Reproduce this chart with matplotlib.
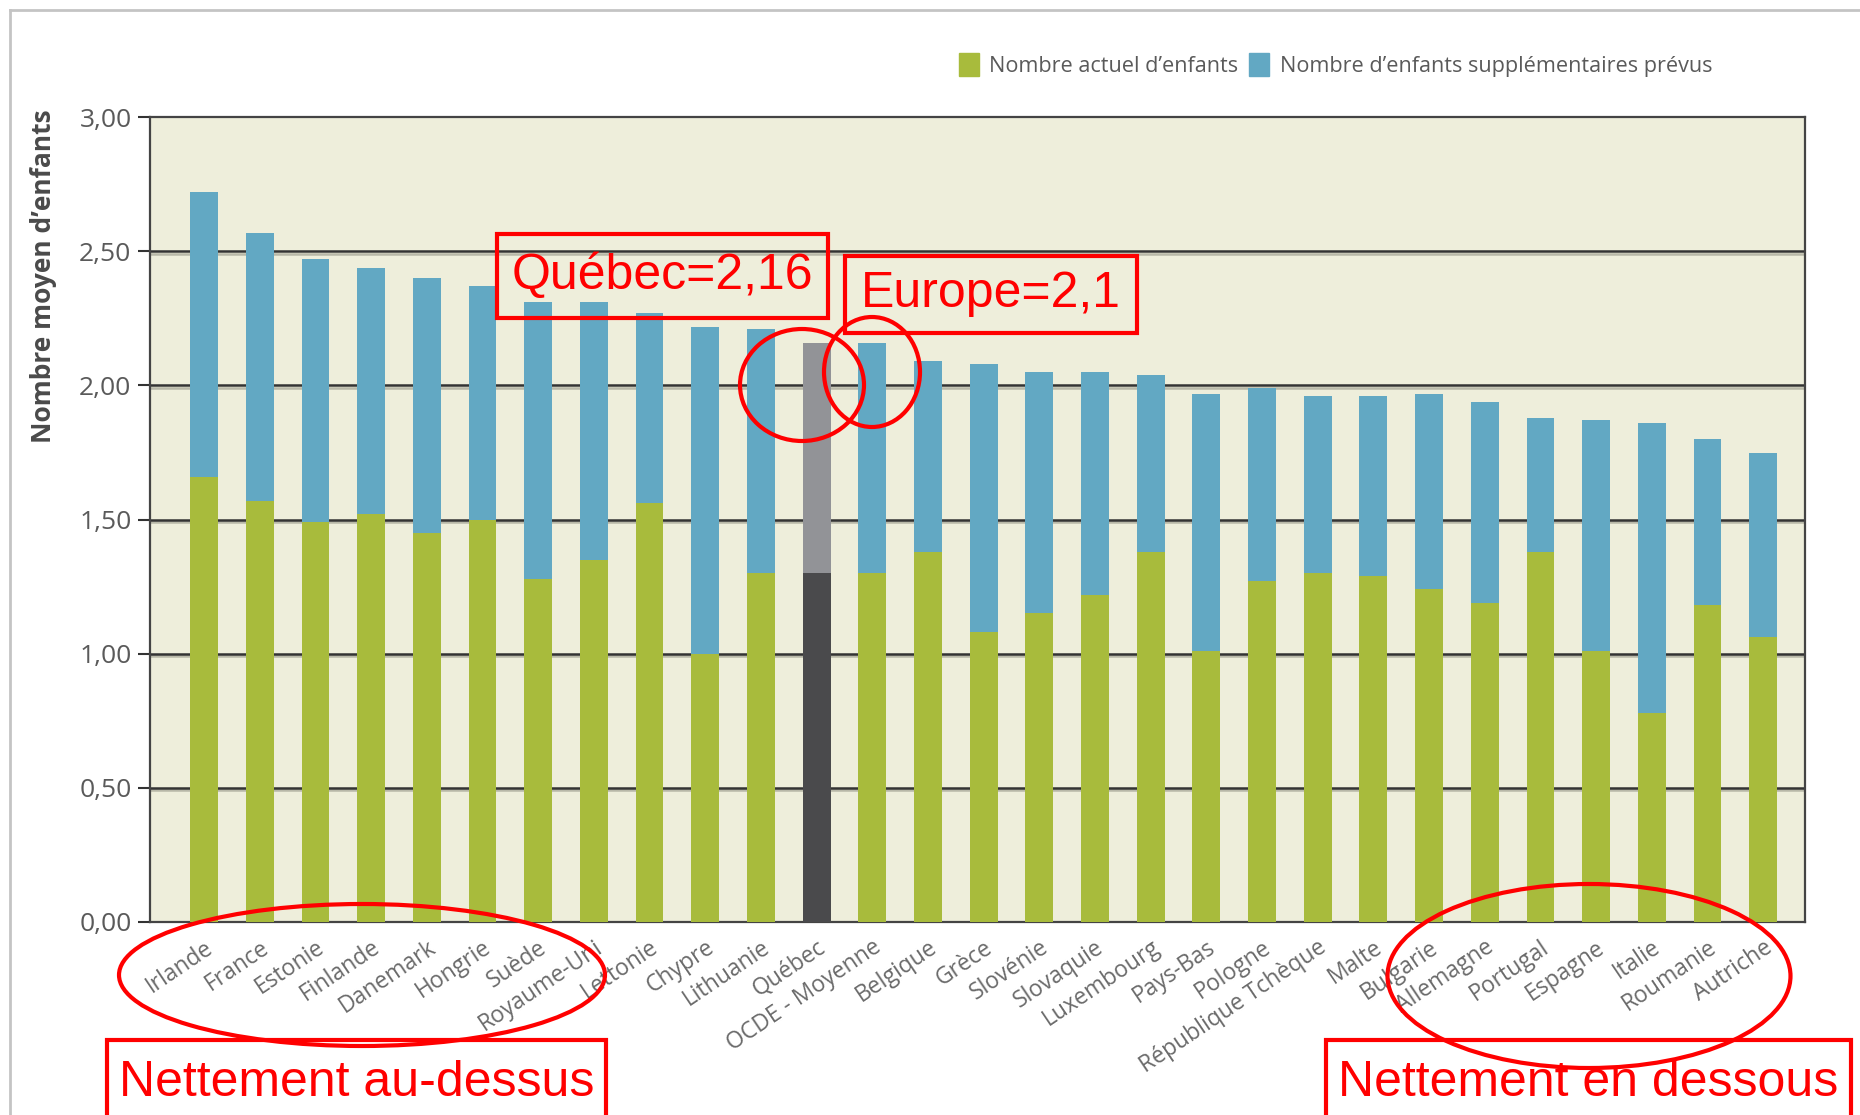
import matplotlib
matplotlib.use('Agg')
import matplotlib.pyplot as plt
from matplotlib.patches import Rectangle, Ellipse
from matplotlib.lines import Line2D
import numpy as np

# données
pays = ['Irlande', 'France', 'Estonie', 'Finlande', 'Danemark', 'Hongrie', 'Suède',
        'Royaume-Uni', 'Lettonie', 'Chypre', 'Lithuanie', 'Québec', 'OCDE - Moyenne',
        'Belgique', 'Grèce', 'Slovénie', 'Slovaquie', 'Luxembourg', 'Pays-Bas', 'Pologne',
        'République Tchèque', 'Malte', 'Bulgarie', 'Allemagne', 'Portugal', 'Espagne',
        'Italie', 'Roumanie', 'Autriche']
actuel = [1.66, 1.57, 1.49, 1.52, 1.45, 1.50, 1.28, 1.35, 1.56, 1.00, 1.30, 1.30, 1.30,
          1.38, 1.08, 1.15, 1.22, 1.38, 1.01, 1.27, 1.30, 1.29, 1.24, 1.19, 1.38, 1.01,
          0.78, 1.18, 1.06]
total = [2.72, 2.57, 2.47, 2.44, 2.40, 2.37, 2.31, 2.31, 2.27, 2.22, 2.21, 2.16, 2.16,
         2.09, 2.08, 2.05, 2.05, 2.04, 1.97, 1.99, 1.96, 1.96, 1.97, 1.94, 1.88, 1.87,
         1.86, 1.80, 1.75]
supplementaires = [t - a for t, a in zip(total, actuel)]
yticks = [0, 0.5, 1.0, 1.5, 2.0, 2.5, 3.0]

VERT = '#a8bb3c'
BLEU = '#62a8c3'
FOND = '#eeeedb'
W, H = 1860, 1115

fig = plt.figure(figsize=(W / 100, H / 100), dpi=100)
ax = fig.add_axes([0.0804, 0.1734, 0.89, 0.7213])
ax.set_facecolor(FOND)

x = np.arange(len(pays))
c1 = [VERT] * len(pays)
c2 = [BLEU] * len(pays)
iq = pays.index('Québec')
c1[iq] = '#4a4a4c'
c2[iq] = '#929397'
ax.bar(x, actuel, width=0.5, color=c1, zorder=3)
ax.bar(x, supplementaires, width=0.5, bottom=actuel, color=c2, zorder=3)

# lignes de grille sombres avec une ombre grise
for yv in yticks[1:-1]:
    ax.axhline(yv - 0.008, color='#b8b8a8', lw=1.8, zorder=1)
    ax.axhline(yv, color='#333333', lw=1.8, zorder=2)

ax.set_xlim(-0.98, 28.75)
ax.set_ylim(0, 3)
ax.set_yticks(yticks)
ax.set_yticklabels([f'{v:.2f}'.replace('.', ',') for v in yticks],
                   fontsize=19, color='#5a5a5a', family='Open Sans')
ax.tick_params(axis='y', length=9, width=1.5, color='#333333', pad=4)
ax.set_xticks(x)
ax.set_xticklabels(pays, rotation=34, ha='right', rotation_mode='anchor',
                   fontsize=16.5, color='#6a6a6a', family='Open Sans')
ax.tick_params(axis='x', length=0, pad=10)
for s in ax.spines.values():
    s.set_color('#444444')
    s.set_linewidth(1.6)
ax.set_ylabel('Nombre moyen d’enfants', fontsize=19, fontweight='bold',
              color='#4a4a4a', family='Open Sans', labelpad=16, loc='top')
ax.yaxis.label.set_y(1.01)

# légende
handles = [Rectangle((0, 0), 1, 1, color=VERT), Rectangle((0, 0), 1, 1, color=BLEU)]
fig.legend(handles, ['Nombre actuel d’enfants', 'Nombre d’enfants supplémentaires prévus'],
           loc='center right', bbox_to_anchor=(0.931, 0.942), ncol=2, frameon=False,
           handlelength=0.9, handleheight=1.3, handletextpad=0.5, columnspacing=0.5,
           prop={'family': 'Open Sans', 'size': 15.6}, labelcolor='#5a5a5a')

# cadre extérieur gris
fig.add_artist(Line2D([10 / W, 10 / W], [0, 1 - 10 / H], color='#c4c4c4', lw=2,
                      transform=fig.transFigure))
fig.add_artist(Line2D([10 / W, 1], [1 - 10 / H, 1 - 10 / H], color='#c4c4c4', lw=2,
                      transform=fig.transFigure))


# annotations rouges (positions en pixels de la figure)
def boite(x0, y0, x1, y1, texte, fond='none'):
    fig.add_artist(Rectangle((x0 / W, 1 - y1 / H), (x1 - x0) / W, (y1 - y0) / H,
                             transform=fig.transFigure, fc=fond, ec='red', lw=3, zorder=10))
    fig.text((x0 + x1) / 2 / W, 1 - (y0 + y1) / 2 / H, texte, color='red',
             fontsize=36, family='Liberation Sans', ha='center', va='center', zorder=11)


def cercle(cx, cy, w, h):
    fig.add_artist(Ellipse((cx / W, 1 - cy / H), w / W, h / H, transform=fig.transFigure,
                           fc='none', ec='red', lw=3, zorder=10))


boite(497, 234, 828, 318, 'Québec=2,16')
boite(845, 256, 1137, 333, 'Europe=2,1')
boite(107, 1040, 606, 1125, 'Nettement au-dessus', fond='white')
boite(1326, 1040, 1851, 1125, 'Nettement en dessous', fond='white')
cercle(802, 385, 124, 112)
cercle(872, 372, 96, 110)
cercle(362, 975, 486, 142)
cercle(1589, 976, 403, 184)

fig.savefig('out.png', dpi=100)
